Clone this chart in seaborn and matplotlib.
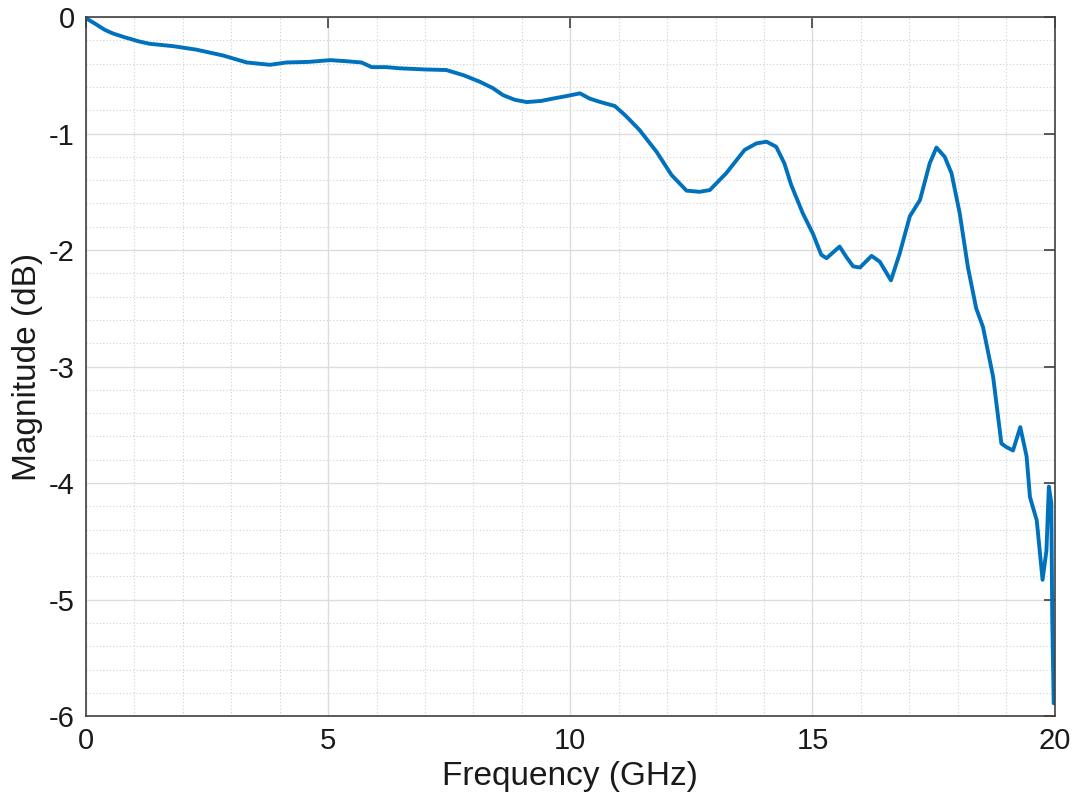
import matplotlib
matplotlib.use("Agg")
import matplotlib.pyplot as plt
from matplotlib.ticker import MultipleLocator
import seaborn as sns
import pandas as pd

freq_ghz = [0, 0.1, 0.2, 0.39, 0.55, 0.77, 1.1, 1.32, 1.8, 2.28, 2.83, 3.32, 3.8, 4.14, 4.6,
            5.04, 5.4, 5.69, 5.9, 6.2, 6.48, 7.0, 7.44, 7.8, 8.13, 8.4, 8.61, 8.85, 9.1, 9.4,
            9.64, 9.9, 10.2, 10.4, 10.6, 10.92, 11.15, 11.43, 11.78, 12.09, 12.4, 12.67,
            12.88, 13.22, 13.6, 13.84, 14.05, 14.25, 14.42, 14.56, 14.8, 15.01, 15.18, 15.29,
            15.56, 15.70, 15.84, 15.98, 16.22, 16.39, 16.62, 16.80, 17.01, 17.22,
            17.42, 17.56, 17.73, 17.87, 18.04, 18.21, 18.38, 18.52, 18.73, 18.90, 19.00, 19.14,
            19.29, 19.42, 19.49, 19.63, 19.75, 19.83, 19.88, 19.93, 19.95, 19.98]
magnitude_db = [-0.01, -0.035, -0.06, -0.11, -0.14, -0.17, -0.21, -0.23, -0.25, -0.28, -0.33,
                -0.39, -0.41, -0.39, -0.385, -0.37, -0.38, -0.39, -0.43, -0.43, -0.44, -0.45,
                -0.455, -0.5, -0.555, -0.61, -0.67, -0.71, -0.73, -0.72, -0.70, -0.68, -0.655,
                -0.70, -0.727, -0.764, -0.85, -0.97, -1.156, -1.356, -1.49, -1.50, -1.485,
                -1.34, -1.14, -1.085, -1.07, -1.113, -1.256, -1.44, -1.685, -1.86, -2.04,
                -2.07, -1.97, -2.06, -2.14, -2.15, -2.05, -2.10, -2.26, -2.03, -1.71, -1.57,
                -1.256, -1.12, -1.2, -1.34, -1.685, -2.15, -2.5, -2.66, -3.09, -3.66, -3.69,
                -3.72, -3.52, -3.77, -4.12, -4.32, -4.83, -4.58, -4.03, -4.17, -5.15, -5.89]
x_ticks = [0, 5, 10, 15, 20]
y_ticks = [-6, -5, -4, -3, -2, -1, 0]

df = pd.DataFrame({"f": freq_ghz, "m": magnitude_db})

sns.set_style("white")
plt.rcParams['font.family'] = ['Liberation Sans', 'DejaVu Sans']

fig = plt.figure(figsize=(10.74, 8.11), dpi=100)
ax = fig.add_axes([0.080, 0.117, 0.902, 0.862])

sns.lineplot(data=df, x="f", y="m", ax=ax, color="#0072BD", linewidth=2.8,
             sort=False, estimator=None)

ax.set_xlim(0, 20)
ax.set_ylim(-6, 0)
ax.set_xticks(x_ticks)
ax.set_yticks(y_ticks)
ax.set_xticklabels([str(t) for t in x_ticks])
ax.set_yticklabels([str(t) for t in y_ticks])
ax.xaxis.set_minor_locator(MultipleLocator(1))
ax.yaxis.set_minor_locator(MultipleLocator(0.2))

ax.grid(which="major", color="#dcdcdc", linewidth=1.0, linestyle="-")
ax.grid(which="minor", color="#d0d0d0", linewidth=0.8, linestyle=(0, (1, 2)))
ax.set_axisbelow(True)

ax.tick_params(which="major", direction="in", length=8, width=1.2, color="#404040",
               labelsize=21, labelcolor="#1a1a1a", top=True, right=True, pad=8)
ax.tick_params(which="minor", length=0)
for s in ax.spines.values():
    s.set_color("#404040")
    s.set_linewidth(1.2)

ax.set_xlabel("Frequency (GHz)", fontsize=24, labelpad=4, color="#1a1a1a")
ax.set_ylabel("Magnitude (dB)", fontsize=24, labelpad=4, color="#1a1a1a")

fig.savefig("out.png", dpi=100)
